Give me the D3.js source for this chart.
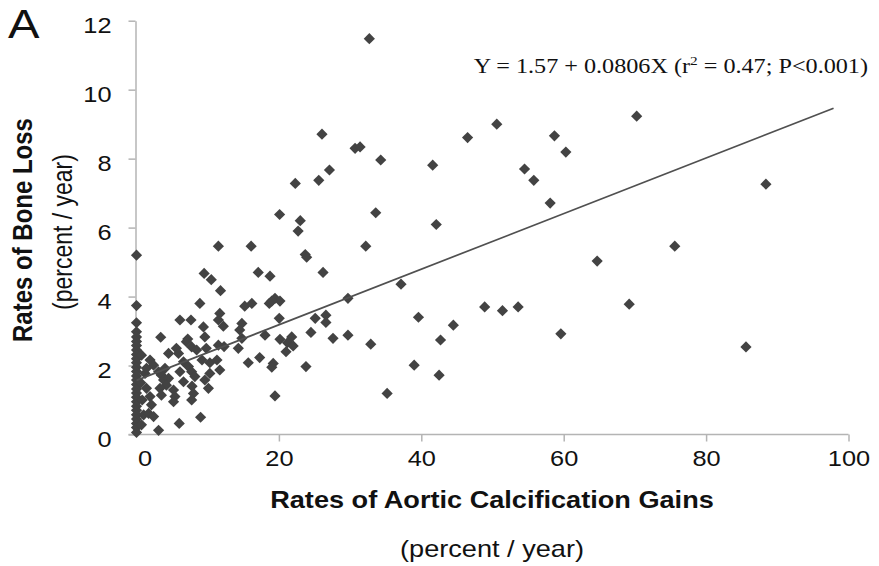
<!DOCTYPE html>
<html><head><meta charset="utf-8">
<script src="https://cdn.jsdelivr.net/npm/d3@7"></script>
<style>body{margin:0;background:#fff;} svg{display:block}</style>
</head><body><svg id="c" width="879" height="566"></svg>
<script>
// Rates of aortic calcification gains (percent/year) vs rates of bone loss (percent/year)
const observations = [
  [0,5.20],[0,3.74],[0,3.24],[0,2.98],[0,2.83],[0,2.70],[0,2.58],[0,2.45],[0,2.32],[0,2.20],
  [0,2.08],[0,1.95],[0,1.83],[0,1.70],[0,1.58],[0,1.45],[0,1.32],[0,1.20],[0,1.08],[0,0.95],
  [0,0.82],[0,0.70],[0,0.57],[0,0.45],[0,0.32],[0,0.20],[0,0.06],
  [0.7,0.28],[1.0,0.57],[0.8,1.0],[0.6,1.5],[0.7,2.3],[1.2,1.77],[1.4,1.92],[1.4,1.34],[1.9,1.10],
  [2.1,0.86],[1.7,0.61],[2.4,0.52],[1.9,2.16],[2.4,2.01],
  [3.1,1.82],[3.5,1.72],[4.0,1.92],[3.8,1.58],[4.5,1.63],[4.2,1.43],[3.3,1.34],[3.5,1.14],[3.1,0.12],
  [3.4,2.82],[4.5,2.35],[5.6,2.50],[5.9,2.35],
  [5.2,1.29],[5.4,1.10],[5.2,0.95],[6.0,0.32],
  [6.6,2.11],[7.3,1.97],[7.75,1.82],[8.2,1.68],[6.1,1.82],[6.6,1.53],[7.8,1.40],[8.0,1.19],[7.75,1.0],
  [6.1,3.32],[7.65,3.32],[7.2,2.77],[7.0,2.69],[7.75,2.54],[8.45,2.45],[8.9,3.80],[9.0,0.50],
  [9.5,4.67],[10.5,4.49],[11.8,4.17],[11.7,3.51],[11.5,3.32],[12.2,3.14],[9.4,3.12],[9.6,2.83],[9.8,2.50],
  [12.3,2.55],[14.3,2.50],[9.2,2.16],[10.3,2.08],[11.3,2.16],[11.7,1.87],[10.3,1.77],[9.6,1.58],[10.1,1.34],
  [11.5,2.59],
  [15.7,2.08],[17.3,2.23],[19.2,2.06],[19.0,1.95],[19.45,1.12],
  [11.5,5.46],[16.1,5.46],[17.1,4.70],[18.75,4.59],[15.2,3.72],[16.2,3.80],[18.65,3.80],[19.45,3.95],
  [20.15,3.87],[19.0,3.87],[14.8,3.22],[14.5,3.03],[14.8,2.79],[18.05,2.88],[20.05,3.37],[20.15,2.76],
  [21.8,2.83],[21.2,2.66],[22.0,2.57],[21.0,2.40],[24.5,2.96],[27.6,2.79],[29.7,2.88],[25.1,3.37],
  [26.6,3.46],[26.6,3.25],[29.7,3.95],[23.8,1.97],[26.2,4.70],[23.7,5.22],[23.9,5.14],[32.2,5.46],
  [33.6,6.43],[22.7,5.90],[23.0,6.20],[20.1,6.38],[22.3,7.28],[25.6,7.37],[27.1,7.67],[26.05,8.71],
  [30.7,8.30],[31.4,8.34],[34.3,7.96],[32.7,11.48],
  [32.9,2.62],[37.15,4.36],[39.6,3.40],[44.5,3.17],[42.7,2.74],[48.9,3.70],[51.4,3.59],[53.6,3.70],
  [39.0,2.01],[42.5,1.72],[35.2,1.19],
  [41.6,7.81],[42.1,6.09],[46.5,8.61],[50.6,9.00],[70.25,9.23],[58.7,8.66],[60.3,8.19],[54.5,7.70],
  [55.8,7.37],[58.1,6.71],[88.4,7.26],[64.7,5.03],[75.6,5.46],[69.2,3.78],[59.6,2.92],[85.6,2.54]
];
const fitCoef = [1.57, 0.0806];      // intercept, slope
const fitRange = [0, 97.9];          // x extent of fitted line
const xTicks = [0, 20, 40, 60, 80, 100];
const yTicks = [0, 2, 4, 6, 8, 10, 12];
const xDomain = [0, 100];
const yDomain = [0, 12];

const svg = d3.select("#c");
const x = d3.scaleLinear().domain(xDomain).range([136.5, 848.5]);
const y = d3.scaleLinear().domain(yDomain).range([434.5, 20.7]);
const axisColor = "#b4b4b4";
const sans = "Liberation Sans, Arial, sans-serif";
const sx = 1.18; // horizontal stretch of lettering in the reference

// X axis
const gx = svg.append("g").attr("transform", `translate(0,${y(0)})`)
  .call(d3.axisBottom(x).tickValues(xTicks).tickSize(7).tickSizeOuter(0).tickPadding(9));
gx.select(".domain").attr("stroke", axisColor).attr("stroke-width", 1.5)
  .attr("d", `M${x(0)-8},0H${x(100)}`);
gx.selectAll(".tick line").attr("stroke", axisColor).attr("stroke-width", 1.5)
  .attr("display", d => d === 0 ? "none" : null);
gx.selectAll(".tick text").attr("font-family", sans)
  .attr("font-size", 21.5).attr("fill", "#111")
  .attr("x", d => d === 0 ? 8 / sx : 0)
  .attr("transform", `scale(${sx},1)`);

// Y axis
const gy = svg.append("g").attr("transform", `translate(${x(0)-1},0)`)
  .call(d3.axisLeft(y).tickValues(yTicks).tickSize(7).tickSizeOuter(0));
gy.select(".domain").attr("stroke", axisColor).attr("stroke-width", 1.5);
gy.selectAll(".tick line").attr("stroke", axisColor).attr("stroke-width", 1.5);
gy.selectAll(".tick text").attr("font-family", sans)
  .attr("font-size", 21.5).attr("fill", "#111").attr("dy", "0.55em")
  .attr("x", -24 / sx).attr("transform", `scale(${sx},1)`);

// Points (diamonds)
const r = 5.6;
svg.append("g").selectAll("path").data(observations).join("path")
  .attr("transform", d => `translate(${x(d[0])},${y(d[1])})`)
  .attr("d", `M0,${-r}L${r},0L0,${r}L${-r},0Z`)
  .attr("fill", "#434343");

// Regression line
const line = d3.line().x(d => x(d)).y(d => y(fitCoef[0] + fitCoef[1] * d));
svg.append("path").datum(fitRange).attr("d", line)
  .attr("stroke", "#505050").attr("stroke-width", 1.7).attr("fill", "none");

function stretchedText(cx, cy, rot) {
  return svg.append("g").attr("transform", `translate(${cx},${cy}) scale(${sx},1)` + (rot ? ` rotate(${rot})` : ""))
    .append("text");
}

// Equation
const eq = stretchedText(868, 73).attr("text-anchor", "end")
  .attr("font-family", "Liberation Serif, Times New Roman, serif").attr("font-size", 20.5).attr("fill", "#111");
eq.append("tspan").text("Y = 1.57 + 0.0806X (r");
eq.append("tspan").attr("font-size", 13).attr("dy", -8).text("2");
eq.append("tspan").attr("dy", 8).text(" = 0.47; P<0.001)");

// Panel letter
stretchedText(8, 38).attr("font-family", sans).attr("font-size", 40).attr("fill", "#111").text("A");

// Axis titles
stretchedText(492, 500).attr("text-anchor", "middle")
  .attr("font-family", sans).attr("font-weight", "bold").attr("font-size", 23).attr("fill", "#111")
  .attr("dy", "0.35em").text("Rates of Aortic Calcification Gains");
stretchedText(492, 549).attr("text-anchor", "middle")
  .attr("font-family", sans).attr("font-size", 23).attr("fill", "#111")
  .attr("dy", "0.35em").text("(percent / year)");
stretchedText(22, 230, -90).attr("text-anchor", "middle")
  .attr("font-family", sans).attr("font-weight", "bold").attr("font-size", 24).attr("fill", "#111")
  .attr("dy", "0.35em").text("Rates of Bone Loss");
stretchedText(62, 232, -90).attr("text-anchor", "middle")
  .attr("font-family", sans).attr("font-size", 23).attr("fill", "#111")
  .attr("dy", "0.35em").text("(percent / year)");
</script></body></html>
